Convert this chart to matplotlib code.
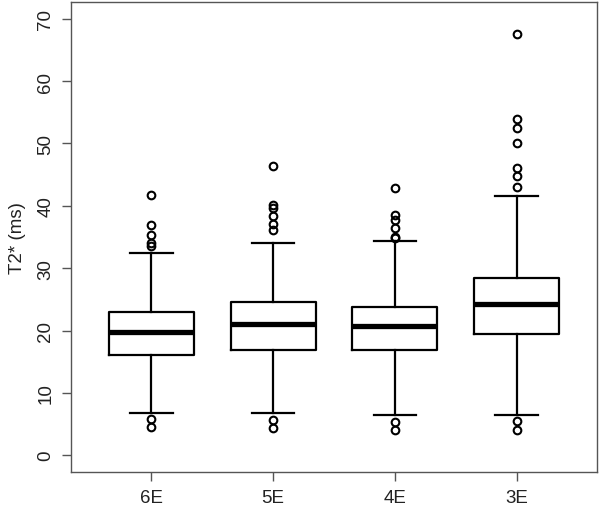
import matplotlib
matplotlib.use("Agg")
import matplotlib.pyplot as plt

categories = ["6E", "5E", "4E", "3E"]
q1 = [16.1, 16.9, 16.8, 19.4]
medians = [19.8, 21.1, 20.8, 24.2]
q3 = [22.9, 24.5, 23.7, 28.5]
whisker_low = [6.8, 6.8, 6.5, 6.5]
whisker_high = [32.5, 34.1, 34.4, 41.6]
outliers = [
    [41.7, 36.9, 35.4, 34.1, 33.6, 5.8, 4.5],
    [46.4, 40.2, 39.6, 38.3, 37.1, 36.2, 5.7, 4.3],
    [42.9, 38.6, 37.8, 36.5, 35.0, 34.8, 5.4, 4.1],
    [67.5, 54.0, 52.5, 50.0, 46.1, 44.8, 43.1, 5.5, 4.1],
]
yticks = [0, 10, 20, 30, 40, 50, 60, 70]
ylabel = "T2* (ms)"

plt.rcParams['font.family'] = ['Liberation Sans', 'DejaVu Sans']

fig = plt.figure(figsize=(6.0, 5.1), dpi=100)
ax = fig.add_axes([71/600, 37/510, 526/600, 470/510])

stats = []
for i, c in enumerate(categories):
    stats.append(dict(label=c, q1=q1[i], med=medians[i], q3=q3[i],
                      whislo=whisker_low[i], whishi=whisker_high[i],
                      fliers=outliers[i]))

positions = list(range(1, len(categories) + 1))
ax.bxp(stats, positions=positions, widths=0.7, patch_artist=False,
       boxprops=dict(color="black", linewidth=1.6),
       whiskerprops=dict(color="black", linewidth=1.6, linestyle="-"),
       capprops=dict(color="black", linewidth=1.6),
       capwidths=0.35,
       medianprops=dict(color="black", linewidth=3.8, solid_capstyle="butt"),
       flierprops=dict(marker="o", markerfacecolor="none", markeredgecolor="black",
                       markersize=5.5, markeredgewidth=1.5, linestyle="none"))

ax.set_xlim(0.34, 4.66)
ax.set_ylim(-2.7, 72.7)
ax.set_yticks(yticks)
ax.set_yticklabels([str(t) for t in yticks], rotation=90, va="center")
ax.set_xticks(positions)
ax.set_xticklabels(categories)
ax.tick_params(axis="both", direction="out", length=6.5, width=1.0, color="#555555",
               labelsize=13.5, labelcolor="#222222")
ax.tick_params(axis="y", pad=5.5)
ax.tick_params(axis="x", pad=5.5)
for s in ax.spines.values():
    s.set_color("#555555")
    s.set_linewidth(1.0)
ax.set_ylabel(ylabel, fontsize=13.5, color="#222222", labelpad=8)

fig.savefig("out.png", dpi=100)
